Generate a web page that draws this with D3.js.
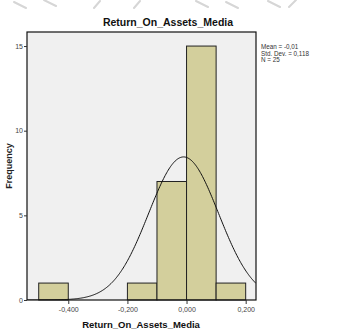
<!DOCTYPE html>
<html>
<head>
<meta charset="utf-8">
<script src="https://cdn.jsdelivr.net/npm/d3@7"></script>
<style>
  html, body { margin: 0; padding: 0; background: #fff; }
  svg { display: block; font-family: "Liberation Sans", Arial, sans-serif; }
</style>
</head>
<body>
<svg id="chart" width="337" height="336"></svg>
<script>
// Histogram bins (lower edge, upper edge) and counts
const binStart = [-0.5, -0.2, -0.1, 0.0, 0.1];
const binEnd   = [-0.4, -0.1, 0.0, 0.1, 0.2];
const counts   = [1, 1, 7, 15, 1];
const xTicks = [-0.4, -0.2, 0.0, 0.2];
const xTickLabels = ["-0,400", "-0,200", "0,000", "0,200"];
const yTicks = [0, 5, 10, 15];
const stats = { mean: -0.01, sd: 0.118, n: 25, binWidth: 0.1 };
const statLines = ["Mean = -0,01", "Std. Dev. = 0,118", "N = 25"];

const svg = d3.select("#chart");
const L = 27, R = 256, T = 32, B = 300;

// Faint decorative strokes along the top edge of the page
const strokes = [[14, 2, 26, 8], [44, 0, 56, 6], [94, 8, 100, 1], [134, 8, 140, 1],
                 [196, 1, 208, 7], [226, 2, 238, 8], [268, 1, 280, 7], [289, 7, 296, 0]];
svg.append("g").selectAll("line").data(strokes).join("line")
  .attr("x1", d => d[0]).attr("y1", d => d[1]).attr("x2", d => d[2]).attr("y2", d => d[3])
  .attr("stroke", "#d6d6d6").attr("stroke-width", 2).attr("stroke-linecap", "round");

const x = d3.scaleLinear().domain([-0.5396, 0.2349]).range([L, R]);
const y = d3.scaleLinear().domain([0, 15.83]).range([B, T]);

// Plot background
svg.append("rect").attr("x", L).attr("y", T).attr("width", R - L).attr("height", B - T)
  .attr("fill", "#f0f0f0");

// Bars
svg.append("g").selectAll("rect").data(counts).join("rect")
  .attr("x", (d, i) => x(binStart[i]))
  .attr("y", d => y(d))
  .attr("width", (d, i) => x(binEnd[i]) - x(binStart[i]))
  .attr("height", d => y(0) - y(d))
  .attr("fill", "#d3cf9c")
  .attr("stroke", "#222")
  .attr("stroke-width", 1);

// Normal curve scaled to counts
svg.append("clipPath").attr("id", "plotclip")
  .append("rect").attr("x", L).attr("y", T).attr("width", R - L).attr("height", B - T);
const k = stats.n * stats.binWidth / (stats.sd * Math.sqrt(2 * Math.PI));
const curvePts = d3.range(0, 301).map(i => {
  const v = x.domain()[0] + (x.domain()[1] - x.domain()[0]) * i / 300;
  const z = (v - stats.mean) / stats.sd;
  return [v, k * Math.exp(-0.5 * z * z)];
});
svg.append("path")
  .attr("clip-path", "url(#plotclip)")
  .attr("d", d3.line().x(d => x(d[0])).y(d => y(d[1])).curve(d3.curveBasis)(curvePts))
  .attr("fill", "none").attr("stroke", "#111").attr("stroke-width", 1);

// Frame
svg.append("rect").attr("x", L).attr("y", T).attr("width", R - L).attr("height", B - T)
  .attr("fill", "none").attr("stroke", "#111").attr("stroke-width", 1.2);

// Axes
const xAxis = svg.append("g").attr("transform", `translate(0,${B})`)
  .call(d3.axisBottom(x).tickValues(xTicks).tickFormat((d, i) => xTickLabels[i]).tickSize(4).tickPadding(3));
const yAxis = svg.append("g").attr("transform", `translate(${L},0)`)
  .call(d3.axisLeft(y).tickValues(yTicks).tickSize(3).tickPadding(1));
[xAxis, yAxis].forEach(g => {
  g.select(".domain").remove();
  g.selectAll("line").attr("stroke", "#333");
  g.selectAll("text").attr("font-size", 7).attr("fill", "#444")
    .attr("font-family", "'Liberation Sans', Arial, sans-serif");
});

// Title and axis titles
svg.append("text").attr("x", 168).attr("y", 26).attr("text-anchor", "middle")
  .attr("font-size", 10.5).attr("font-weight", "bold").attr("fill", "#111")
  .text("Return_On_Assets_Media");
svg.append("text").attr("x", 141).attr("y", 328).attr("text-anchor", "middle")
  .attr("font-size", 9.5).attr("font-weight", "bold").attr("fill", "#111")
  .text("Return_On_Assets_Media");
svg.append("text").attr("transform", "translate(12,166) rotate(-90)").attr("text-anchor", "middle")
  .attr("font-size", 9).attr("font-weight", "bold").attr("fill", "#222")
  .text("Frequency");

// Summary statistics
svg.append("g").selectAll("text").data(statLines).join("text")
  .attr("x", 261).attr("y", (d, i) => 49 + i * 6.6)
  .attr("font-size", 6.3).attr("fill", "#333")
  .text(d => d);
</script>
</body>
</html>
